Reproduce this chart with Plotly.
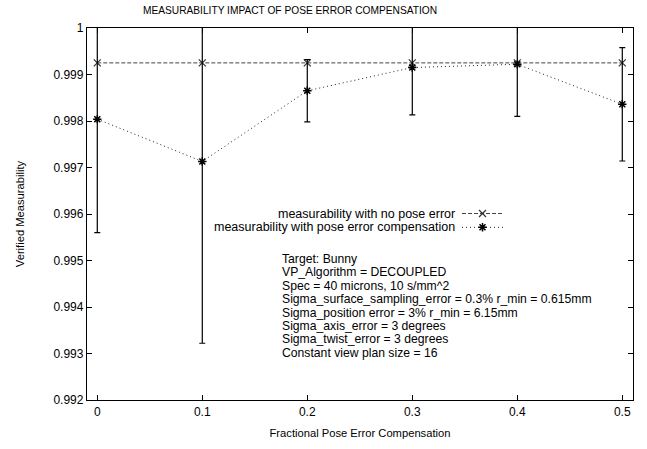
import plotly.graph_objects as go

# ---- data ----
x_vals = [0, 0.1, 0.2, 0.3, 0.4, 0.5]
no_pose = [0.99925, 0.99925, 0.99925, 0.99925, 0.99925, 0.99925]
comp = [0.99804, 0.99713, 0.99865, 0.99915, 0.99922, 0.99836]
comp_err = [0.00244, 0.00391, 0.00067, 0.00102, 0.00112, 0.00122]

x_ticks = [0, 0.1, 0.2, 0.3, 0.4, 0.5]
x_ticktext = ["0", "0.1", "0.2", "0.3", "0.4", "0.5"]
y_ticks = [0.992, 0.993, 0.994, 0.995, 0.996, 0.997, 0.998, 0.999, 1.0]
y_ticktext = ["0.992", "0.993", "0.994", "0.995", "0.996", "0.997", "0.998", "0.999", "1"]

legend_labels = ["measurability with no pose error",
                 "measurability with pose error compensation"]
info_lines = [
    "Target: Bunny",
    "VP_Algorithm = DECOUPLED",
    "Spec = 40 microns, 10 s/mm^2",
    "Sigma_surface_sampling_error = 0.3% r_min = 0.615mm",
    "Sigma_position error = 3% r_min = 6.15mm",
    "Sigma_axis_error = 3 degrees",
    "Sigma_twist_error = 3 degrees",
    "Constant view plan size = 16",
]

FONT = "Liberation Sans, Arial, Helvetica, sans-serif"
W, H = 647, 449
L, R, T, B = 87, 14, 28, 44
pw, ph = W - L - R, H - T - B
TXT = 12.5
INFO = 12.2

def px_to_paper_x(px):
    return (px - L) / pw

def px_to_paper_y(py):
    return (H - B - py) / ph

fig = go.Figure()

fig.add_trace(go.Scatter(
    x=x_vals, y=no_pose, mode="lines+markers",
    line=dict(color="#444444", width=1, dash="4px,2px"),
    marker=dict(symbol="x-thin-open", size=7, color="#333333",
                line=dict(color="#333333", width=1.2)),
    showlegend=False,
))
fig.add_trace(go.Scatter(
    x=x_vals, y=comp, mode="lines+markers",
    line=dict(color="#222222", width=1, dash="1px,3px"),
    marker=dict(symbol="asterisk-open", size=7, color="black",
                line=dict(color="black", width=1.5)),
    error_y=dict(type="data", array=comp_err, visible=True, color="black",
                 thickness=1.2, width=3),
    showlegend=False,
))

# manual legend (symbol to the right of text, gnuplot style)
leg_y_px = [216, 230]
styles = [
    (dict(color="#444444", width=1, dash="4px,2px"), "x-thin-open", 1.2, "#333333"),
    (dict(color="#222222", width=1, dash="1px,3px"), "asterisk-open", 1.5, "black"),
]
for i, lab in enumerate(legend_labels):
    yy = px_to_paper_y(leg_y_px[i])
    ln, sym, mw, mc = styles[i]
    fig.add_trace(go.Scatter(
        x=[px_to_paper_x(462), px_to_paper_x(503)], y=[yy, yy],
        xaxis="x2", yaxis="y2", mode="lines", line=ln, showlegend=False,
        hoverinfo="skip"))
    fig.add_trace(go.Scatter(
        x=[px_to_paper_x(482.5)], y=[yy], xaxis="x2", yaxis="y2", mode="markers",
        marker=dict(symbol=sym, size=7, color=mc, line=dict(color=mc, width=mw)),
        showlegend=False, hoverinfo="skip"))
    fig.add_annotation(x=px_to_paper_x(457), y=yy, xref="paper", yref="paper",
                       text=lab, showarrow=False, xanchor="right", yanchor="middle",
                       font=dict(family=FONT, size=TXT, color="black"))

for i, txt in enumerate(info_lines):
    fig.add_annotation(x=px_to_paper_x(280), y=px_to_paper_y(262 + 13.6 * i),
                       xref="paper", yref="paper", text=txt, showarrow=False,
                       xanchor="left", yanchor="middle",
                       font=dict(family=FONT, size=INFO, color="black"))

axis_common = dict(showline=True, linecolor="black", linewidth=1.3, mirror="ticks",
                   ticks="inside", ticklen=5, tickcolor="black", tickwidth=1,
                   showgrid=False, zeroline=False,
                   tickfont=dict(family=FONT, size=12, color="black"))

fig.update_layout(
    width=W, height=H,
    margin=dict(l=L, r=R, t=T, b=B),
    paper_bgcolor="white", plot_bgcolor="white",
    font=dict(family=FONT, size=12, color="black"),
    title=dict(text="MEASURABILITY IMPACT OF POSE ERROR COMPENSATION",
               x=290 / W, xanchor="center", y=1 - 10 / H, yanchor="middle",
               font=dict(family=FONT, size=10.2, color="black")),
    xaxis=dict(range=[-0.0098, 0.5102], tickvals=x_ticks, ticktext=x_ticktext,
               title=dict(text="Fractional Pose Error Compensation", standoff=11,
                          font=dict(family=FONT, size=11.2)),
               **axis_common),
    yaxis=dict(range=[0.992, 1.0], tickvals=y_ticks, ticktext=y_ticktext,
               title=dict(text="Verified Measurability", standoff=26,
                          font=dict(family=FONT, size=11.2)),
               **axis_common),
    xaxis2=dict(overlaying="x", range=[0, 1], visible=False),
    yaxis2=dict(overlaying="y", range=[0, 1], visible=False),
    showlegend=False,
)

fig.write_html("out.html")
